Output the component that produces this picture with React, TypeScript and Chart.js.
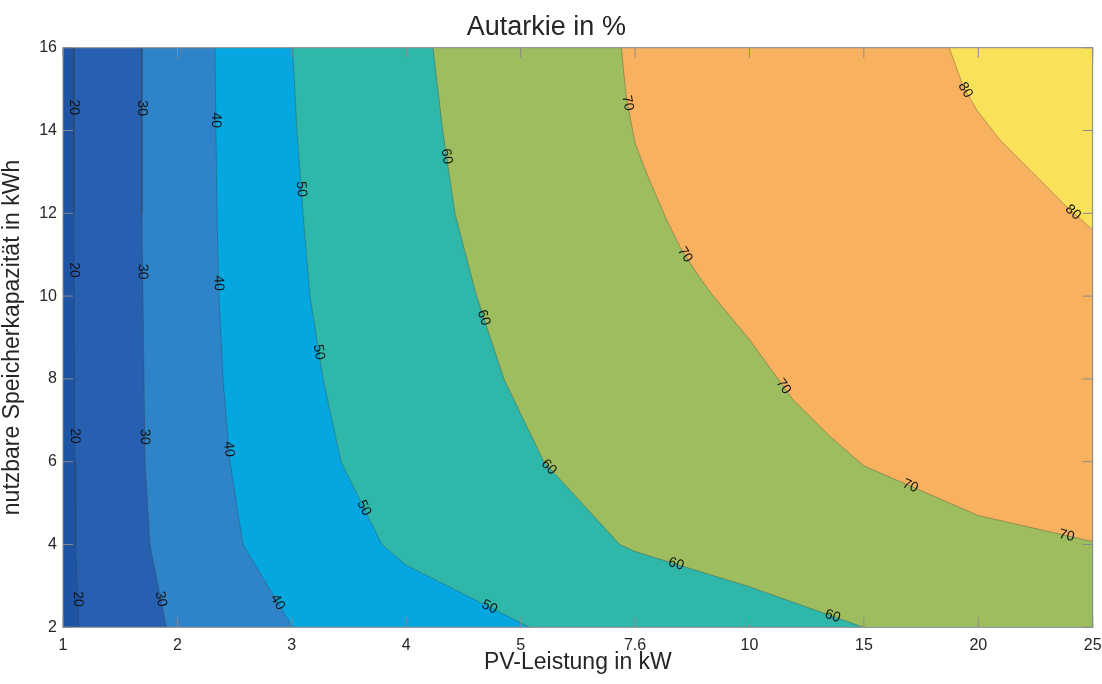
import React, { useEffect, useRef } from "react";
import { Chart, registerables } from "chart.js";

Chart.register(...registerables);

// ---------- data ----------
const X_LABELS = ["1", "2", "3", "4", "5", "7.6", "10", "15", "20", "25"];
const X_MIN = 0;
const X_MAX = 9;
const Y_MIN = 2;
const Y_MAX = 16;
const Y_STEP = 2;

const LEVELS = [20, 30, 40, 50, 60, 70, 80];

// contour lines: [x index, kWh]
const contour20 = [[0.096, 16], [0.096, 12], [0.1, 8], [0.105, 6], [0.11, 4], [0.14, 2]];
const contour30 = [[0.69, 16], [0.69, 14], [0.69, 12], [0.699, 10], [0.708, 8], [0.717, 6], [0.76, 4], [0.904, 2]];
const contour40 = [[1.328, 16], [1.337, 14], [1.346, 12], [1.363, 10], [1.398, 8], [1.459, 6], [1.573, 4], [2.006, 2]];
const contour50 = [[2.007, 16], [2.045, 14], [2.098, 12], [2.159, 10], [2.273, 8], [2.43, 6], [2.788, 4], [3.0, 3.5], [4.081, 2]];
const contour60 = [[3.234, 16], [3.319, 14], [3.426, 12], [3.615, 10], [3.854, 8], [4.203, 6], [4.867, 4], [5.0, 3.83], [6.0, 2.98], [7.0, 2]];
const contour70 = [[4.88, 16], [4.924, 14.8], [5.0, 13.7], [5.1, 12.97], [5.276, 11.84], [5.393, 11.19], [5.539, 10.55], [5.684, 10.0], [6.0, 8.95], [6.38, 7.5], [6.7, 6.62], [7.0, 5.9], [8.0, 4.7], [9.0, 4.07]];
const contour80 = [[7.746, 16], [7.869, 15.06], [7.986, 14.5], [8.19, 13.77], [8.48, 12.97], [8.772, 12.16], [9.0, 11.6]];

// label anchors on each contour
const labels20 = [[0.079, 14.56], [0.081, 10.63], [0.099, 6.62], [0.125, 2.68]];
const labels30 = [[0.682, 14.54], [0.687, 10.59], [0.702, 6.6], [0.853, 2.68]];
const labels40 = [[1.313, 14.25], [1.351, 10.31], [1.43, 6.3], [1.866, 2.59]];
const labels50 = [[2.061, 12.58], [2.224, 8.64], [2.623, 4.87], [3.73, 2.5]];
const labels60 = [[3.345, 13.37], [3.657, 9.46], [4.268, 5.92], [5.36, 3.53], [6.73, 2.3]];
const labels70 = [[4.93, 14.66], [5.43, 10.99], [6.29, 7.8], [7.4, 5.37], [8.77, 4.19]];
const labels80 = [[7.9, 15.0], [8.82, 12.0]];

// region colours: below 20, 20-30, ..., above 80
const REGION_COLORS = ["#1d54a4", "#2760b0", "#2f84c9", "#05a7e0", "#2fb8a9", "#9dbd5e", "#f8b25f", "#fae15a"];

const CONTOURS = [contour20, contour30, contour40, contour50, contour60, contour70, contour80];
const LABELS = [labels20, labels30, labels40, labels50, labels60, labels70, labels80];

const FONT = "'Liberation Sans', Arial, Helvetica, sans-serif";
const TEXT_COLOR = "#262626";

function toPoints(arr: number[][]) {
  return arr.map(([x, y]) => ({ x, y }));
}

function regionPolygon(c: number[][]) {
  const pts = c.map((p) => p.slice());
  const last = pts[pts.length - 1];
  if (last[1] === Y_MIN && last[0] !== X_MAX) pts.push([X_MAX, Y_MIN]);
  pts.push([X_MAX, Y_MAX]);
  return pts;
}

const contourLabelPlugin = {
  id: "contourLabels",
  afterDatasetsDraw(chart: any) {
    const { ctx } = chart;
    const xs = chart.scales.x;
    const ys = chart.scales.y;
    ctx.save();
    ctx.font = `14px ${FONT}`;
    ctx.fillStyle = "#141414";
    ctx.textAlign = "center";
    ctx.textBaseline = "middle";
    LEVELS.forEach((lvl, k) => {
      const pts = CONTOURS[k].map(([a, b]) => [xs.getPixelForValue(a), ys.getPixelForValue(b)]);
      LABELS[k].forEach(([a, b]) => {
        const px = xs.getPixelForValue(a);
        const py = ys.getPixelForValue(b);
        let best = Infinity;
        let bx = px;
        let by = py;
        let ang = 0;
        for (let i = 0; i < pts.length - 1; i++) {
          const [x0, y0] = pts[i];
          const [x1, y1] = pts[i + 1];
          const dx = x1 - x0;
          const dy = y1 - y0;
          const len2 = dx * dx + dy * dy || 1;
          let t = ((px - x0) * dx + (py - y0) * dy) / len2;
          t = Math.max(0, Math.min(1, t));
          const qx = x0 + t * dx;
          const qy = y0 + t * dy;
          const d = (qx - px) ** 2 + (qy - py) ** 2;
          if (d < best) {
            best = d;
            bx = qx;
            by = qy;
            let ddx = dx;
            let ddy = dy;
            if (ddx < 0 || (ddx === 0 && ddy < 0)) {
              ddx = -ddx;
              ddy = -ddy;
            }
            ang = Math.atan2(ddy, ddx);
          }
        }
        ctx.save();
        ctx.translate(bx, by);
        ctx.rotate(ang);
        ctx.fillText(String(lvl), 0, 0);
        ctx.restore();
      });
    });
    ctx.restore();
  },
};

const boxPlugin = {
  id: "matlabBox",
  afterDraw(chart: any) {
    const { ctx, chartArea } = chart;
    const { left, right, top, bottom } = chartArea;
    const xs = chart.scales.x;
    const ys = chart.scales.y;
    const TL = 10;
    ctx.save();
    ctx.strokeStyle = "#8a8a8a";
    ctx.lineWidth = 1;
    ctx.beginPath();
    xs.ticks.forEach((t: any) => {
      const p = xs.getPixelForValue(t.value);
      ctx.moveTo(p, bottom);
      ctx.lineTo(p, bottom - TL);
      ctx.moveTo(p, top);
      ctx.lineTo(p, top + TL);
    });
    ys.ticks.forEach((t: any) => {
      const p = ys.getPixelForValue(t.value);
      ctx.moveTo(left, p);
      ctx.lineTo(left + TL, p);
      ctx.moveTo(right, p);
      ctx.lineTo(right - TL, p);
    });
    ctx.stroke();
    ctx.strokeRect(left, top, right - left, bottom - top);
    ctx.restore();
  },
};

export default function App() {
  const ref = useRef<HTMLCanvasElement>(null);

  useEffect(() => {
    if (!ref.current) return;

    const basePolygon = [[X_MIN, Y_MAX], [X_MIN, Y_MIN], [X_MAX, Y_MIN], [X_MAX, Y_MAX]];
    const datasets: any[] = [];
    datasets.push({
      label: "<20",
      data: toPoints(basePolygon),
      backgroundColor: REGION_COLORS[0],
      borderWidth: 0,
      pointRadius: 0,
      fill: "shape",
      order: 100,
    });
    CONTOURS.forEach((c, k) => {
      datasets.push({
        label: `>=${LEVELS[k]}`,
        data: toPoints(regionPolygon(c)),
        backgroundColor: REGION_COLORS[k + 1],
        borderWidth: 0,
        pointRadius: 0,
        fill: "shape",
        order: 90 - k * 10,
      });
    });
    CONTOURS.forEach((c, k) => {
      datasets.push({
        label: `line ${LEVELS[k]}`,
        data: toPoints(c),
        borderColor: "rgba(60,60,60,0.35)",
        borderWidth: 1,
        pointRadius: 0,
        fill: false,
        order: 0,
      });
    });

    const chart = new Chart(ref.current, {
      type: "line",
      data: { datasets },
      plugins: [contourLabelPlugin, boxPlugin],
      options: {
        animation: false,
        responsive: true,
        maintainAspectRatio: false,
        events: [],
        layout: { padding: { left: 0, right: 9.3, top: 0, bottom: 0 } },
        plugins: {
          legend: { display: false },
          tooltip: { enabled: false },
          title: {
            display: true,
            text: "Autarkie in %",
            color: TEXT_COLOR,
            font: { family: FONT, size: 27, weight: "normal" },
            padding: { top: 11, bottom: 4.3 },
          },
        },
        scales: {
          x: {
            type: "linear",
            min: X_MIN,
            max: X_MAX,
            grid: { display: false, drawTicks: false, tickLength: 0 },
            border: { display: false },
            afterFit: (s: any) => {
              s.height = 56.7;
              s.paddingLeft = 0;
              s.paddingRight = 0;
            },
            ticks: {
              stepSize: 1,
              autoSkip: false,
              maxRotation: 0,
              padding: 9,
              color: TEXT_COLOR,
              font: { family: FONT, size: 16 },
              callback: (v: any) => X_LABELS[Math.round(Number(v))] ?? "",
            },
            title: {
              display: true,
              text: "PV-Leistung in kW",
              color: TEXT_COLOR,
              font: { family: FONT, size: 23 },
              padding: { top: 0, bottom: 8 },
            },
          },
          y: {
            type: "linear",
            min: Y_MIN,
            max: Y_MAX,
            grid: { display: false, drawTicks: false, tickLength: 0 },
            border: { display: false },
            afterFit: (s: any) => {
              s.width = 63;
            },
            ticks: {
              stepSize: Y_STEP,
              padding: 6,
              color: TEXT_COLOR,
              font: { family: FONT, size: 16 },
            },
            title: {
              display: true,
              text: "nutzbare Speicherkapazität in kWh",
              color: TEXT_COLOR,
              font: { family: FONT, size: 23, lineHeight: 1.1 },
              padding: { top: 0, bottom: 0 },
            },
          },
        },
      } as any,
    });
    return () => chart.destroy();
  }, []);

  return (
    <div style={{ position: "fixed", left: 0, top: 0, width: 1102, height: 684, background: "#ffffff" }}>
      <canvas ref={ref} />
    </div>
  );
}
